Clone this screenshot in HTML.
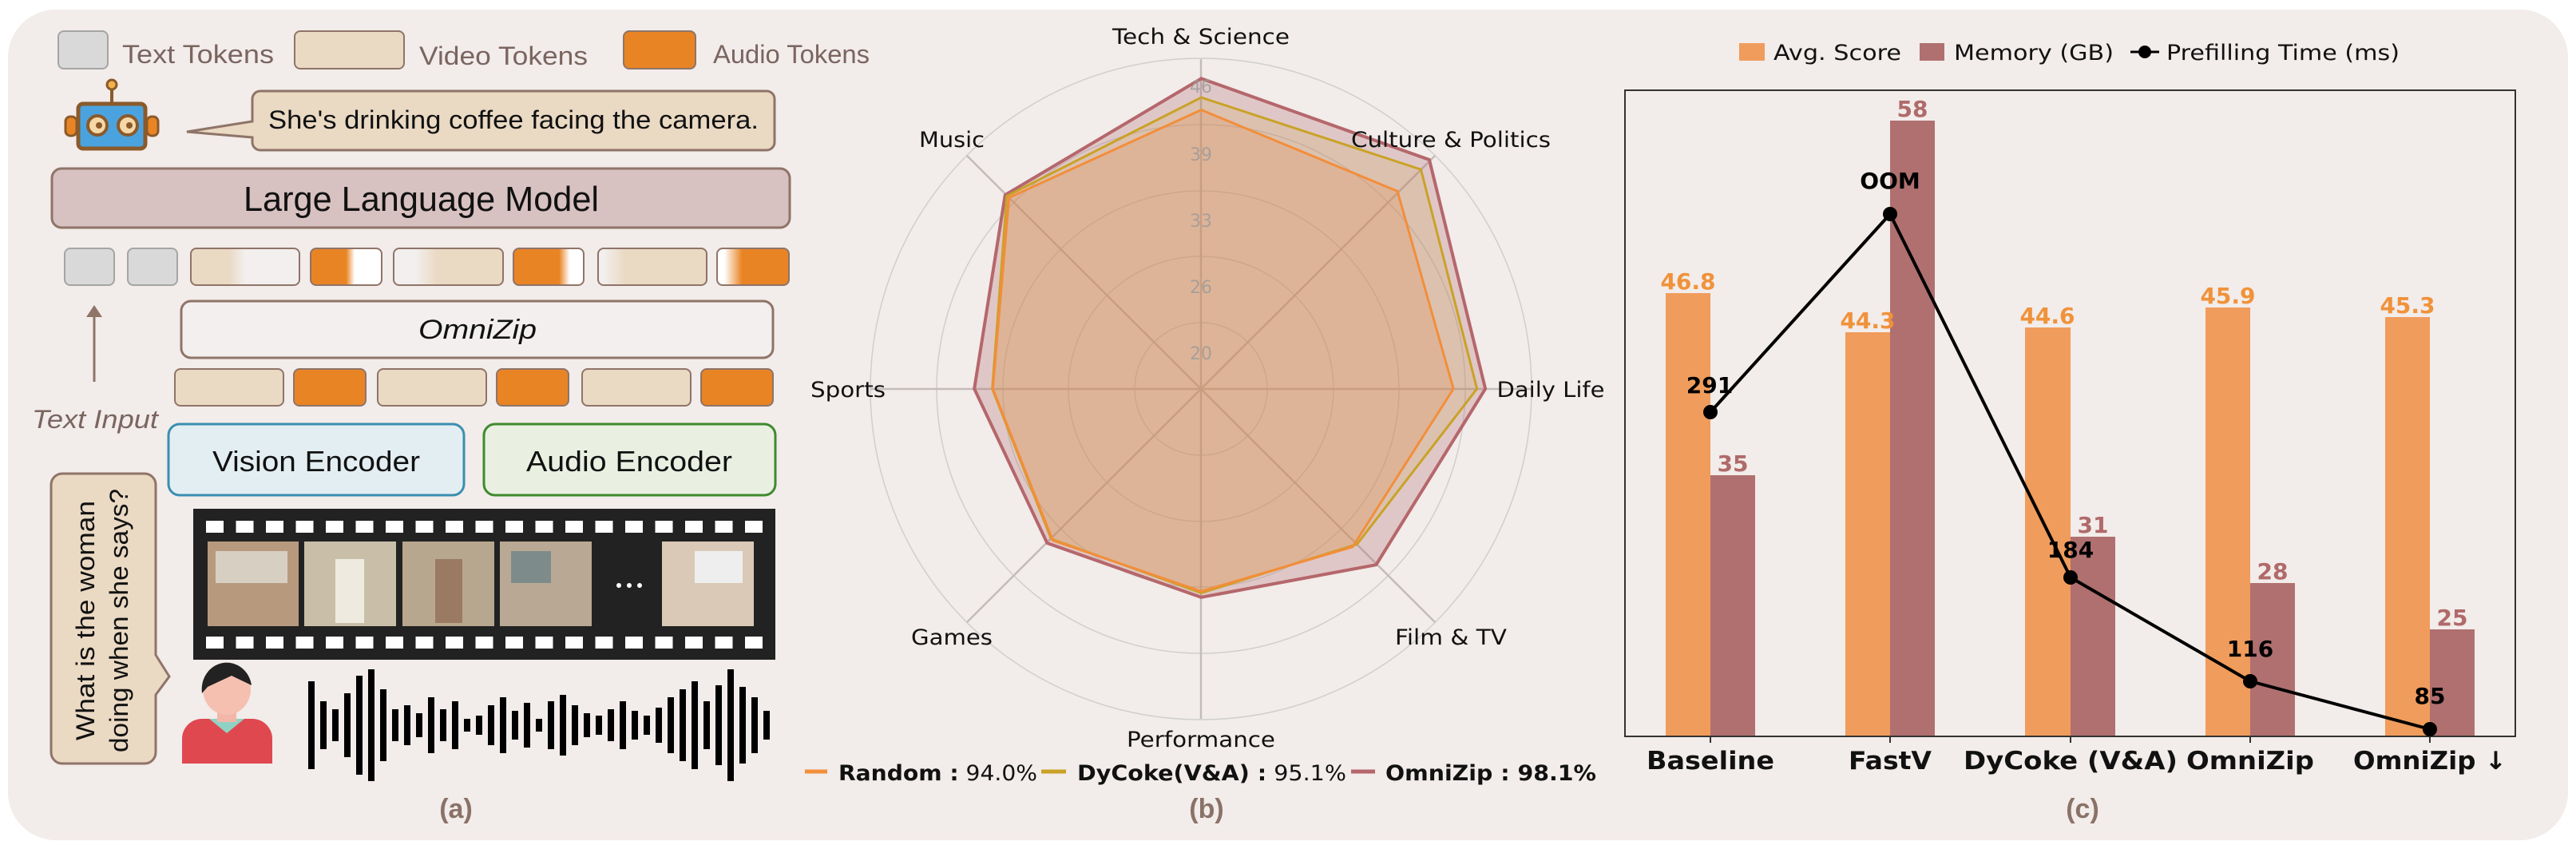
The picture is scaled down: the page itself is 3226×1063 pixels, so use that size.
<!DOCTYPE html>
<html><head><meta charset="utf-8"><style>
html,body{margin:0;padding:0;background:#fff;}
svg{display:block;}
</style></head><body>
<svg id="s" width="3226" height="1063" viewBox="0 0 3226 1063" xmlns="http://www.w3.org/2000/svg">
<rect x="10" y="12" width="3206" height="1040" rx="60" fill="#f2ecea"/>

<!-- ===== Panel (a) ===== -->
<g font-family="Liberation Sans, sans-serif">
<rect x="73" y="39" width="62" height="47" rx="7" fill="#d9d9d9" stroke="#a5a5a5" stroke-width="2"/>
<text x="153" y="79" font-size="32" fill="#7a6560" textLength="190" lengthAdjust="spacingAndGlyphs">Text Tokens</text>
<rect x="369" y="39" width="137" height="47" rx="7" fill="#ead9c3" stroke="#8f7468" stroke-width="2"/>
<text x="525" y="81" font-size="32" fill="#7a6560" textLength="211" lengthAdjust="spacingAndGlyphs">Video Tokens</text>
<rect x="781" y="39" width="90" height="47" rx="7" fill="#e98424" stroke="#8f7468" stroke-width="2"/>
<text x="893" y="79" font-size="32" fill="#7a6560" textLength="196" lengthAdjust="spacingAndGlyphs">Audio Tokens</text>

<!-- robot -->
<line x1="140" y1="108" x2="140" y2="130" stroke="#8b5a2b" stroke-width="4"/>
<circle cx="140" cy="106" r="6" fill="#f3b34a" stroke="#8b5a2b" stroke-width="3"/>
<rect x="98" y="130" width="84" height="56" rx="6" fill="#4aa3df" stroke="#8b5a2b" stroke-width="5"/>
<rect x="82" y="146" width="14" height="24" rx="6" fill="#e98424" stroke="#8b5a2b" stroke-width="3"/>
<rect x="184" y="146" width="14" height="24" rx="6" fill="#e98424" stroke="#8b5a2b" stroke-width="3"/>
<circle cx="122" cy="157" r="12" fill="#f6d7a7" stroke="#8b5a2b" stroke-width="4"/>
<circle cx="160" cy="157" r="12" fill="#f6d7a7" stroke="#8b5a2b" stroke-width="4"/>
<circle cx="124" cy="157" r="4" fill="#8b5a2b"/><circle cx="162" cy="157" r="4" fill="#8b5a2b"/>
<!-- bubble -->
<path d="M326 114 H960 a10 10 0 0 1 10 10 V178 a10 10 0 0 1 -10 10 H326 a10 10 0 0 1 -10 -10 V172 L234 165 L316 152 V124 a10 10 0 0 1 10 -10 Z" fill="#ead9c3" stroke="#8f7468" stroke-width="3"/>
<text x="336" y="161" font-size="32" fill="#111" textLength="614" lengthAdjust="spacingAndGlyphs">She's drinking coffee facing the camera.</text>
<!-- LLM -->
<rect x="65" y="211" width="924" height="74" rx="12" fill="#d8c1c1" stroke="#8f7468" stroke-width="3"/>
<text x="305" y="264" font-size="44" fill="#111" textLength="445" lengthAdjust="spacingAndGlyphs">Large Language Model</text>

<defs>
<linearGradient id="vw" x1="0" x2="1"><stop offset="0.35" stop-color="#ead9c3"/><stop offset="0.5" stop-color="#f2efee"/></linearGradient>
<linearGradient id="aw" x1="0" x2="1"><stop offset="0.5" stop-color="#e98424"/><stop offset="0.62" stop-color="#fff"/></linearGradient>
<linearGradient id="wv" x1="0" x2="1"><stop offset="0.2" stop-color="#f2efee"/><stop offset="0.4" stop-color="#ead9c3"/></linearGradient>
<linearGradient id="aw2" x1="0" x2="1"><stop offset="0.65" stop-color="#e98424"/><stop offset="0.8" stop-color="#fff"/></linearGradient>
<linearGradient id="wv2" x1="0" x2="1"><stop offset="0.05" stop-color="#f2efee"/><stop offset="0.25" stop-color="#ead9c3"/></linearGradient>
<linearGradient id="wa" x1="0" x2="1"><stop offset="0.1" stop-color="#fff"/><stop offset="0.35" stop-color="#e98424"/></linearGradient>
</defs>
<g stroke="#8f7468" stroke-width="2">
<rect x="81" y="311" width="62" height="46" rx="7" fill="#d9d9d9" stroke="#a5a5a5"/>
<rect x="160" y="311" width="62" height="46" rx="7" fill="#d9d9d9" stroke="#a5a5a5"/>
<rect x="239" y="311" width="136" height="46" rx="7" fill="url(#vw)"/>
<rect x="389" y="311" width="89" height="46" rx="7" fill="url(#aw)"/>
<rect x="493" y="311" width="137" height="46" rx="7" fill="url(#wv)"/>
<rect x="643" y="311" width="88" height="46" rx="7" fill="url(#aw2)"/>
<rect x="749" y="311" width="136" height="46" rx="7" fill="url(#wv2)"/>
<rect x="898" y="311" width="90" height="46" rx="7" fill="url(#wa)"/>
</g>
<rect x="227" y="377" width="741" height="71" rx="12" fill="#f2efee" stroke="#8f7468" stroke-width="3"/>
<text x="524" y="424" font-size="34" font-style="italic" fill="#111" textLength="148" lengthAdjust="spacingAndGlyphs">OmniZip</text>
<g stroke="#8f7468" stroke-width="2">
<rect x="219" y="462" width="136" height="46" rx="7" fill="#ead9c3"/>
<rect x="368" y="462" width="90" height="46" rx="7" fill="#e98424"/>
<rect x="473" y="462" width="136" height="46" rx="7" fill="#ead9c3"/>
<rect x="622" y="462" width="90" height="46" rx="7" fill="#e98424"/>
<rect x="729" y="462" width="136" height="46" rx="7" fill="#ead9c3"/>
<rect x="878" y="462" width="90" height="46" rx="7" fill="#e98424"/>
</g>
<line x1="118" y1="478" x2="118" y2="395" stroke="#8f7468" stroke-width="3"/>
<path d="M108 397 L118 382 L128 397 Z" fill="#8f7468"/>
<text x="40" y="536" font-size="32" font-style="italic" fill="#7a6560" textLength="158" lengthAdjust="spacingAndGlyphs">Text Input</text>
<rect x="211" y="531" width="370" height="89" rx="14" fill="#e3eef2" stroke="#3a8fb0" stroke-width="3"/>
<text x="266" y="590" font-size="36" fill="#111" textLength="260" lengthAdjust="spacingAndGlyphs">Vision Encoder</text>
<rect x="606" y="531" width="365" height="89" rx="14" fill="#e9f0e2" stroke="#3f8a2e" stroke-width="3"/>
<text x="659" y="590" font-size="36" fill="#111" textLength="258" lengthAdjust="spacingAndGlyphs">Audio Encoder</text>
<!-- question bubble -->
<path d="M78 593 H181 a14 14 0 0 1 14 14 V820 L212 847 L195 870 V942 a14 14 0 0 1 -14 14 H78 a14 14 0 0 1 -14 -14 V607 a14 14 0 0 1 14 -14 Z" fill="#ead9c3" stroke="#8f7468" stroke-width="3"/>
<text transform="translate(118 927) rotate(-90)" font-size="32" fill="#111" textLength="300" lengthAdjust="spacingAndGlyphs">What is the woman</text>
<text transform="translate(160 942) rotate(-90)" font-size="32" fill="#111" textLength="330" lengthAdjust="spacingAndGlyphs">doing when she says?</text>
<!-- film strip -->
<rect x="242" y="637" width="729" height="189" fill="#222"/>
<g id="holes" fill="#fff"></g>
<rect x="260" y="678" width="114" height="106" fill="#b79a7e"/>
<rect x="270" y="690" width="90" height="40" fill="#d8cfc3"/>
<rect x="381" y="678" width="115" height="106" fill="#c9bfa9"/>
<rect x="420" y="700" width="36" height="80" fill="#eeeadf"/>
<rect x="504" y="678" width="115" height="106" fill="#b8a78f"/>
<rect x="545" y="700" width="34" height="80" fill="#9a7a62"/>
<rect x="626" y="678" width="115" height="106" fill="#b9a893"/>
<rect x="640" y="690" width="50" height="40" fill="#7d8c8a"/>
<circle cx="775" cy="733" r="3" fill="#fff"/><circle cx="788" cy="733" r="3" fill="#fff"/><circle cx="801" cy="733" r="3" fill="#fff"/>
<rect x="829" y="678" width="115" height="106" fill="#d9c9b6"/>
<rect x="870" y="690" width="60" height="40" fill="#eeeeee"/>
<!-- person -->
<path d="M228 956 V925 a25 25 0 0 1 25 -25 H316 a25 25 0 0 1 25 25 V956 Z" fill="#e0484f"/>
<path d="M262 900 L284 918 L306 900 Z" fill="#8fd2c4"/>
<rect x="272" y="880" width="24" height="24" fill="#f2b7a8"/>
<ellipse cx="284" cy="863" rx="30" ry="32" fill="#f5c0b0"/>
<path d="M253 868 a31 33 0 0 1 62 -10 L290 846 L260 860 Z" fill="#222"/>
<g id="wave" fill="#000"></g>
<text x="571" y="1024" font-size="34" font-weight="bold" fill="#8a7268" text-anchor="middle">(a)</text>
</g>

<!-- ===== Panel (b) radar ===== -->
<g font-family="DejaVu Sans, Liberation Sans, sans-serif">
<g fill="none" stroke="#cfcfcf" stroke-width="1.5">
<circle cx="1504" cy="487" r="83"/><circle cx="1504" cy="487" r="166"/>
<circle cx="1504" cy="487" r="248"/><circle cx="1504" cy="487" r="331"/>
<circle cx="1504" cy="487" r="414"/>
</g>
<g stroke="#c4bcb9" stroke-width="2.5">
<line x1="1504" y1="487" x2="1504" y2="74"/><line x1="1504" y1="487" x2="1504" y2="900"/>
<line x1="1504" y1="487" x2="1090" y2="487"/><line x1="1504" y1="487" x2="1918" y2="487"/>
<line x1="1504" y1="487" x2="1797" y2="195"/><line x1="1504" y1="487" x2="1211" y2="195"/>
<line x1="1504" y1="487" x2="1797" y2="779"/><line x1="1504" y1="487" x2="1211" y2="779"/>
</g>
<g transform="translate(950 0) scale(0.70175 0.678)">
<polygon points="790,145 1197,295 1297,718 1102,1043 790,1103 515,1003 385,718 440,360" fill="#b5676b" fill-opacity="0.28" stroke="#b5676b" stroke-width="4" vector-effect="non-scaling-stroke" stroke-linejoin="round"/>
<polygon points="790,180 1182,313 1282,718 1068,1005 790,1095 522,995 417,718 443,362" fill="#c9a227" fill-opacity="0.15" stroke="#c9a227" stroke-width="3" vector-effect="non-scaling-stroke" stroke-linejoin="round"/>
<polygon points="790,203 1140,353 1240,718 1060,1010 790,1092 525,998 418,718 447,365" fill="#e8894a" fill-opacity="0.22" stroke="#f28e3b" stroke-width="3" vector-effect="non-scaling-stroke" stroke-linejoin="round"/>
</g>
<g font-size="22" fill="#9a9a9a" text-anchor="middle" fill-opacity="0.8">
<text x="1504" y="450">20</text><text x="1504" y="367">26</text><text x="1504" y="284">33</text><text x="1504" y="201">39</text><text x="1504" y="116">46</text>
</g>
<g font-size="27" fill="#111" text-anchor="middle">
<text x="1504" y="55" textLength="222" lengthAdjust="spacingAndGlyphs">Tech &amp; Science</text>
<text x="1817" y="184" textLength="250" lengthAdjust="spacingAndGlyphs">Culture &amp; Politics</text>
<text x="1942" y="497" textLength="135" lengthAdjust="spacingAndGlyphs">Daily Life</text>
<text x="1817" y="807" textLength="140" lengthAdjust="spacingAndGlyphs">Film &amp; TV</text>
<text x="1504" y="935" textLength="186" lengthAdjust="spacingAndGlyphs">Performance</text>
<text x="1192" y="807" textLength="102" lengthAdjust="spacingAndGlyphs">Games</text>
<text x="1062" y="497" textLength="94" lengthAdjust="spacingAndGlyphs">Sports</text>
<text x="1192" y="184" textLength="82" lengthAdjust="spacingAndGlyphs">Music</text>
</g>
<g font-size="27" fill="#111">
<line x1="1008" y1="966" x2="1036" y2="966" stroke="#f28e3b" stroke-width="5"/>
<text x="1050" y="977" textLength="249" lengthAdjust="spacingAndGlyphs"><tspan font-weight="bold">Random :</tspan> 94.0%</text>
<line x1="1304" y1="966" x2="1335" y2="966" stroke="#c9a227" stroke-width="5"/>
<text x="1349" y="977" textLength="337" lengthAdjust="spacingAndGlyphs"><tspan font-weight="bold">DyCoke(V&amp;A) :</tspan> 95.1%</text>
<line x1="1692" y1="966" x2="1722" y2="966" stroke="#b5676b" stroke-width="5"/>
<text x="1735" y="977" font-weight="bold" textLength="264" lengthAdjust="spacingAndGlyphs">OmniZip : 98.1%</text>
</g>
<text x="1511" y="1024" font-size="34" font-weight="bold" fill="#8a7268" text-anchor="middle" font-family="Liberation Sans, sans-serif">(b)</text>
</g>

<!-- ===== Panel (c) bars ===== -->
<g font-family="DejaVu Sans, Liberation Sans, sans-serif">
<rect x="2178" y="54" width="32" height="22" fill="#f09c5c"/>
<text x="2221" y="75" font-size="27" fill="#111" textLength="160" lengthAdjust="spacingAndGlyphs">Avg. Score</text>
<rect x="2404" y="54" width="31" height="22" fill="#b07070"/>
<text x="2447" y="75" font-size="27" fill="#111" textLength="200" lengthAdjust="spacingAndGlyphs">Memory (GB)</text>
<line x1="2668" y1="65" x2="2704" y2="65" stroke="#000" stroke-width="3"/>
<circle cx="2686" cy="65" r="8" fill="#000"/>
<text x="2713" y="75" font-size="27" fill="#111" textLength="292" lengthAdjust="spacingAndGlyphs">Prefilling Time (ms)</text>

<g fill="#f09c5c">
<rect x="2086" y="367" width="56" height="555"/>
<rect x="2311" y="416" width="56" height="506"/>
<rect x="2536" y="410" width="57" height="512"/>
<rect x="2762" y="385" width="56" height="537"/>
<rect x="2987" y="397" width="56" height="525"/>
</g>
<g fill="#b07070">
<rect x="2142" y="595" width="56" height="327"/>
<rect x="2367" y="151" width="56" height="771"/>
<rect x="2593" y="672" width="56" height="250"/>
<rect x="2818" y="730" width="56" height="192"/>
<rect x="3043" y="788" width="56" height="134"/>
</g>
<rect x="2035" y="113" width="1115" height="809" fill="none" stroke="#333" stroke-width="2"/>
<g stroke="#333" stroke-width="2">
<line x1="2142" y1="922" x2="2142" y2="930"/><line x1="2367" y1="922" x2="2367" y2="930"/><line x1="2593" y1="922" x2="2593" y2="930"/><line x1="2818" y1="922" x2="2818" y2="930"/><line x1="3043" y1="922" x2="3043" y2="930"/>
</g>
<g font-size="28" font-weight="bold" fill="#f0923a" text-anchor="middle">
<text x="2114" y="362">46.8</text><text x="2339" y="411">44.3</text><text x="2564" y="405">44.6</text><text x="2790" y="380">45.9</text><text x="3015" y="392">45.3</text>
</g>
<g font-size="28" font-weight="bold" fill="#b06a6a" text-anchor="middle">
<text x="2170" y="590">35</text><text x="2395" y="146">58</text><text x="2621" y="667">31</text><text x="2846" y="725">28</text><text x="3071" y="783">25</text>
</g>
<polyline points="2142,516 2367,268 2593,723 2818,853 3043,913" fill="none" stroke="#000" stroke-width="4" stroke-linejoin="round"/>
<g fill="#000">
<circle cx="2142" cy="516" r="9"/><circle cx="2367" cy="268" r="9"/><circle cx="2593" cy="723" r="9"/><circle cx="2818" cy="853" r="9"/><circle cx="3043" cy="913" r="9"/>
</g>
<g font-size="28" font-weight="bold" fill="#000" text-anchor="middle">
<text x="2141" y="492">291</text><text x="2367" y="236">OOM</text><text x="2593" y="698">184</text><text x="2818" y="822">116</text><text x="3043" y="881">85</text>
</g>
<g font-size="31" font-weight="bold" fill="#111" text-anchor="middle">
<text x="2142" y="963" textLength="160" lengthAdjust="spacingAndGlyphs">Baseline</text>
<text x="2367" y="963" textLength="104" lengthAdjust="spacingAndGlyphs">FastV</text>
<text x="2593" y="963" textLength="268" lengthAdjust="spacingAndGlyphs">DyCoke (V&amp;A)</text>
<text x="2818" y="963" textLength="160" lengthAdjust="spacingAndGlyphs">OmniZip</text>
<text x="3043" y="963" textLength="192" lengthAdjust="spacingAndGlyphs">OmniZip ↓</text>
</g>
<text x="2608" y="1024" font-size="34" font-weight="bold" fill="#8a7268" text-anchor="middle" font-family="Liberation Sans, sans-serif">(c)</text>
</g>
</svg>
<script>
var ns="http://www.w3.org/2000/svg";
var h=document.getElementById("holes");
for(var i=0;i<19;i++){var x=258+i*37.5;
 [652,797].forEach(function(y){var r=document.createElementNS(ns,"rect");r.setAttribute("x",x);r.setAttribute("y",y);r.setAttribute("width",22);r.setAttribute("height",15);h.appendChild(r);});}
var w=document.getElementById("wave");
var hs=[55,30,20,40,62,70,45,20,25,15,35,20,30,8,12,25,35,18,28,8,30,38,25,15,12,20,30,18,12,22,35,45,55,30,50,70,48,35,18];
for(var j=0;j<hs.length;j++){var r=document.createElementNS(ns,"rect");var hh=hs[j];
 r.setAttribute("x",386+j*15);r.setAttribute("y",908-hh);r.setAttribute("width",8);r.setAttribute("height",hh*2);w.appendChild(r);}
</script>
</body></html>
